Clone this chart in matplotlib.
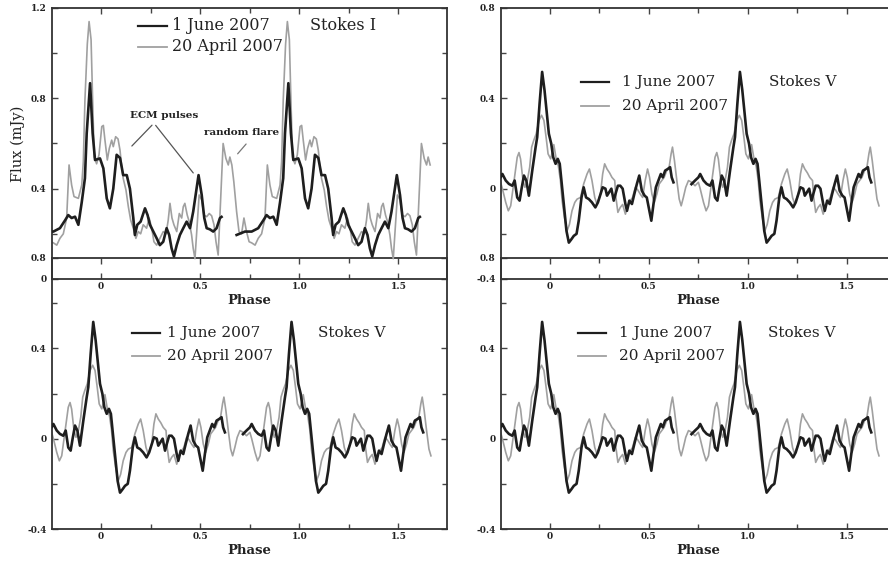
import matplotlib
matplotlib.use("Agg")
import matplotlib.pyplot as plt
import numpy as np
from matplotlib.ticker import MultipleLocator

# ---- Stokes I, one rotation cycle (phase, mJy) ----
i_june_phase = [-0.316, -0.274, -0.240, -0.207, -0.181, -0.165, -0.148, -0.131, -0.114,
                -0.097, -0.081, -0.072, -0.055, -0.042, -0.030, -0.005, 0.012, 0.029,
                0.045, 0.062, 0.079, 0.096, 0.112, 0.130, 0.146, 0.163, 0.171, 0.183,
                0.200, 0.222, 0.235, 0.247, 0.264, 0.281, 0.297, 0.314, 0.331, 0.344,
                0.356, 0.368, 0.382, 0.398, 0.415, 0.432, 0.449, 0.465, 0.482, 0.492,
                0.508, 0.521, 0.533, 0.549, 0.566, 0.583, 0.600, 0.608, 0.650]
i_june_flux = [0.195, 0.21, 0.21, 0.225, 0.26, 0.283, 0.27, 0.276, 0.24,
               0.34, 0.446, 0.645, 0.867, 0.645, 0.527, 0.534, 0.49, 0.357,
               0.313, 0.40, 0.55, 0.536, 0.46, 0.46, 0.40, 0.27, 0.195, 0.24,
               0.254, 0.313, 0.283, 0.24, 0.21, 0.18, 0.15, 0.165, 0.225, 0.195,
               0.136, 0.10, 0.15, 0.195, 0.225, 0.254, 0.225, 0.298, 0.40, 0.46,
               0.372, 0.27, 0.225, 0.22, 0.21, 0.225, 0.27, 0.275, np.nan]

i_april_phase = [-0.330, -0.316, -0.304, -0.291, -0.279, -0.266, -0.253, -0.240, -0.223,
                 -0.207, -0.190, -0.173, -0.161, -0.148, -0.136, -0.114, -0.097, -0.089,
                 -0.081, -0.069, -0.060, -0.050, -0.042, -0.034, -0.022, -0.010, 0.004,
                 0.012, 0.020, 0.032, 0.042, 0.054, 0.062, 0.074, 0.086, 0.096, 0.104,
                 0.112, 0.126, 0.138, 0.150, 0.163, 0.176, 0.188, 0.200, 0.213, 0.230,
                 0.243, 0.256, 0.267, 0.281, 0.297, 0.314, 0.328, 0.339, 0.348, 0.358,
                 0.368, 0.382, 0.395, 0.407, 0.415, 0.423, 0.435, 0.445, 0.457, 0.465,
                 0.474, 0.482, 0.495, 0.508, 0.519, 0.533, 0.546, 0.558, 0.570, 0.580,
                 0.591, 0.603, 0.616, 0.630, 0.642, 0.650, 0.660]
i_april_flux = [0.43, 0.298, 0.21, 0.20, 0.27, 0.21, 0.165, 0.16, 0.15,
                0.18, 0.20, 0.27, 0.505, 0.416, 0.365, 0.357, 0.416, 0.52,
                0.79, 1.04, 1.14, 1.06, 0.79, 0.54, 0.51, 0.55, 0.675,
                0.68, 0.615, 0.527, 0.578, 0.615, 0.586, 0.63, 0.62, 0.57, 0.50,
                0.446, 0.394, 0.32, 0.26, 0.225, 0.18, 0.21, 0.20, 0.24, 0.225,
                0.27, 0.225, 0.165, 0.15, 0.18, 0.21, 0.20, 0.26, 0.335, 0.27,
                0.24, 0.21, 0.29, 0.27, 0.32, 0.335, 0.283, 0.254, 0.195, 0.136,
                0.09, 0.195, 0.372, 0.35, 0.283, 0.276, 0.29, 0.28, 0.24, 0.165,
                0.106, 0.34, 0.60, 0.534, 0.505, 0.54, 0.505]

# ---- Stokes V, one rotation cycle (phase, mJy) ----
v_june_phase = [-0.284, -0.266, -0.249, -0.240, -0.223, -0.207, -0.190, -0.178, -0.165,
                -0.153, -0.143, -0.131, -0.119, -0.106, -0.089, -0.072, -0.064, -0.052,
                -0.039, -0.027, -0.017, -0.005, 0.007, 0.017, 0.029, 0.040, 0.050,
                0.062, 0.074, 0.084, 0.096, 0.109, 0.121, 0.135, 0.146, 0.160, 0.171,
                0.183, 0.197, 0.213, 0.230, 0.243, 0.256, 0.267, 0.281, 0.289, 0.297,
                0.311, 0.323, 0.333, 0.344, 0.356, 0.368, 0.382, 0.390, 0.402, 0.415,
                0.427, 0.440, 0.452, 0.465, 0.479, 0.490, 0.503, 0.513, 0.524, 0.536,
                0.549, 0.561, 0.571, 0.583, 0.596, 0.608, 0.616, 0.625, 0.670]
v_june_flux = [0.02, 0.036, 0.05, 0.065, 0.036, 0.021, 0.013, 0.036, -0.039,
               -0.053, 0.0, 0.058, 0.036, -0.031, 0.08, 0.184, 0.228, 0.376,
               0.517, 0.436, 0.347, 0.243, 0.199, 0.139, 0.11, 0.132, 0.11,
               0.006, -0.098, -0.187, -0.239, -0.224, -0.209, -0.20, -0.142, -0.039, 0.006,
               -0.039, -0.046, -0.061, -0.083, -0.061, -0.024, 0.006, 0.0, -0.031, -0.02,
               0.0, -0.053, -0.02, 0.013, 0.013, 0.0, -0.068, -0.098, -0.053, -0.068,
               -0.024, 0.021, 0.058, -0.009, -0.031, -0.039, -0.098, -0.142, -0.068, 0.006,
               0.036, 0.065, 0.05, 0.080, 0.087, 0.095, 0.05, 0.028, np.nan]

v_april_phase = [-0.325, -0.313, -0.299, -0.283, -0.266, -0.249, -0.240, -0.223, -0.210,
                 -0.198, -0.181, -0.165, -0.156, -0.148, -0.136, -0.126, -0.114, -0.102,
                 -0.092, -0.081, -0.069, -0.055, -0.042, -0.030, -0.019, -0.009, 0.004,
                 0.012, 0.020, 0.032, 0.043, 0.053, 0.062, 0.074, 0.087, 0.099, 0.112,
                 0.126, 0.138, 0.155, 0.171, 0.188, 0.200, 0.213, 0.227, 0.238, 0.256,
                 0.267, 0.277, 0.289, 0.302, 0.314, 0.328, 0.334, 0.344, 0.356, 0.368,
                 0.382, 0.395, 0.407, 0.418, 0.432, 0.444, 0.457, 0.469, 0.482, 0.494,
                 0.504, 0.516, 0.528, 0.541, 0.553, 0.566, 0.578, 0.591, 0.603, 0.613,
                 0.620, 0.630, 0.642, 0.654, 0.664]
v_april_flux = [-0.039, 0.006, 0.036, 0.028, 0.013, 0.028, 0.0, -0.061, -0.098,
                -0.076, 0.036, 0.139, 0.16, 0.131, 0.036, 0.006, 0.036, 0.095,
                0.184, 0.215, 0.243, 0.302, 0.325, 0.302, 0.228, 0.154, 0.132,
                0.161, 0.195, 0.132, 0.10, 0.04, -0.053, -0.128, -0.187, -0.158, -0.098,
                -0.061, -0.046, -0.039, 0.021, 0.065, 0.087, 0.036, -0.039, -0.068, -0.024,
                0.065, 0.11, 0.087, 0.07, 0.05, 0.036, -0.039, -0.105, -0.083, -0.07,
                -0.113, -0.076, -0.053, -0.039, 0.006, -0.005, -0.024, -0.039, 0.036, 0.087,
                0.05, -0.024, -0.061, -0.024, 0.021, 0.036, 0.05, 0.08, 0.095, 0.154,
                0.184, 0.124, 0.036, -0.046, -0.076]

labels = ["1 June 2007", "20 April 2007"]
x_ticks = [0, 0.5, 1.0, 1.5]
x_ticklabels = ["0", "0.5", "1.0", "1.5"]

BLACK = "#1e1e1e"
GREY = "#a0a0a0"
SERIF = "DejaVu Serif"


def two_cycles(ph, val):
    # the light curve is folded on the rotation period and shown twice
    ph = np.asarray(ph, dtype=float)
    val = np.asarray(val, dtype=float)
    return np.concatenate([ph, ph + 1]), np.concatenate([val, val])


def style_axes(ax, ylim, yticks, yticklabels):
    ax.set_facecolor("none")
    ax.set_xlim(-0.247, 1.745)
    ax.set_ylim(*ylim)
    ax.set_xticks(x_ticks, x_ticklabels)
    ax.set_yticks(yticks, yticklabels)
    ax.xaxis.set_minor_locator(MultipleLocator(0.25))
    ax.yaxis.set_minor_locator(MultipleLocator(0.2))
    ax.tick_params(which="both", direction="in", top=True, right=True,
                   width=1.0, color="#444444")
    ax.tick_params(which="major", length=4.5)
    ax.tick_params(which="minor", length=3.5)
    ax.tick_params(axis="x", pad=2)
    ax.tick_params(axis="y", pad=4)
    for lab in ax.get_xticklabels() + ax.get_yticklabels():
        lab.set_fontfamily(SERIF)
        lab.set_fontweight("bold")
        lab.set_fontsize(6.5)
        lab.set_color("#222222")
    for sp in ax.spines.values():
        sp.set_linewidth(1.3)
        sp.set_color("#333333")
    ax.set_xlabel("Phase", fontfamily=SERIF, fontweight="bold", fontsize=9.5,
                  labelpad=2, color="#222222")


def draw_curves(ax, june, april):
    px, fx = two_cycles(*april)
    ax.plot(px, fx, color=GREY, lw=1.2, zorder=2)
    px, fx = two_cycles(*june)
    ax.plot(px, fx, color=BLACK, lw=1.9, zorder=3)


def key(ax, x0, x1, xt, y1, y2, xs, stokes, size):
    for y, c, lw, lab in [(y1, BLACK, 1.6, labels[0]), (y2, GREY, 1.3, labels[1])]:
        ax.plot([x0, x1], [y, y], transform=ax.transAxes, color=c, lw=lw, clip_on=False)
        ax.text(xt, y, lab, transform=ax.transAxes, va="center", ha="left",
                fontfamily=SERIF, fontsize=size, color="#222222")
    ax.text(xs, y1, stokes, transform=ax.transAxes, va="center", ha="left",
            fontfamily=SERIF, fontsize=size, color="#222222")


fig = plt.figure(figsize=(8.88, 5.66), dpi=100)
fig.patch.set_facecolor("white")

ax_bl = fig.add_axes([0.05856, 0.06537, 0.44482, 0.47880])
ax_br = fig.add_axes([0.56419, 0.06537, 0.44369, 0.47880])
ax_tl = fig.add_axes([0.05856, 0.50707, 0.44482, 0.47880])
ax_tr = fig.add_axes([0.56419, 0.50707, 0.44369, 0.47880])

v_ticks = [-0.4, 0, 0.4, 0.8]
v_ticklabels = ["-0.4", "0", "0.4", "0.8"]

# Stokes I panel
style_axes(ax_tl, (0, 1.2), [0, 0.4, 0.8, 1.2], ["0", "0.4", "0.8", "1.2"])
draw_curves(ax_tl, (i_june_phase, i_june_flux), (i_april_phase, i_april_flux))
ax_tl.set_ylabel("Flux (mJy)", fontfamily=SERIF, fontsize=10.5, labelpad=4, color="#222222")
key(ax_tl, 0.218, 0.291, 0.304, 0.934, 0.857, 0.653, "Stokes I", 11.5)

ax_tl.text(0.318, 0.722, "ECM pulses", fontfamily=SERIF, fontweight="bold",
           fontsize=7.5, ha="center", va="center", color="#222222")
ax_tl.annotate("", xy=(0.146, 0.58), xytext=(0.267, 0.69),
               arrowprops=dict(arrowstyle="-", color="#555555", lw=0.9))
ax_tl.annotate("", xy=(0.474, 0.46), xytext=(0.267, 0.69),
               arrowprops=dict(arrowstyle="-", color="#555555", lw=0.9))
ax_tl.text(0.711, 0.647, "random flare", fontfamily=SERIF, fontweight="bold",
           fontsize=7.5, ha="center", va="center", color="#222222")
ax_tl.annotate("", xy=(0.680, 0.545), xytext=(0.741, 0.607),
               arrowprops=dict(arrowstyle="-", color="#777777", lw=0.9))

# Stokes V panels
for ax, pos in [(ax_tr, (0.203, 0.274, 0.307, 0.727, 0.638, 0.680)),
                (ax_bl, (0.203, 0.273, 0.291, 0.723, 0.638, 0.673)),
                (ax_br, (0.195, 0.266, 0.300, 0.723, 0.638, 0.677))]:
    style_axes(ax, (-0.4, 0.8), v_ticks, v_ticklabels)
    draw_curves(ax, (v_june_phase, v_june_flux), (v_april_phase, v_april_flux))
    key(ax, *pos[:5], pos[5], "Stokes V", 11)

fig.savefig("out.png", dpi=100)
